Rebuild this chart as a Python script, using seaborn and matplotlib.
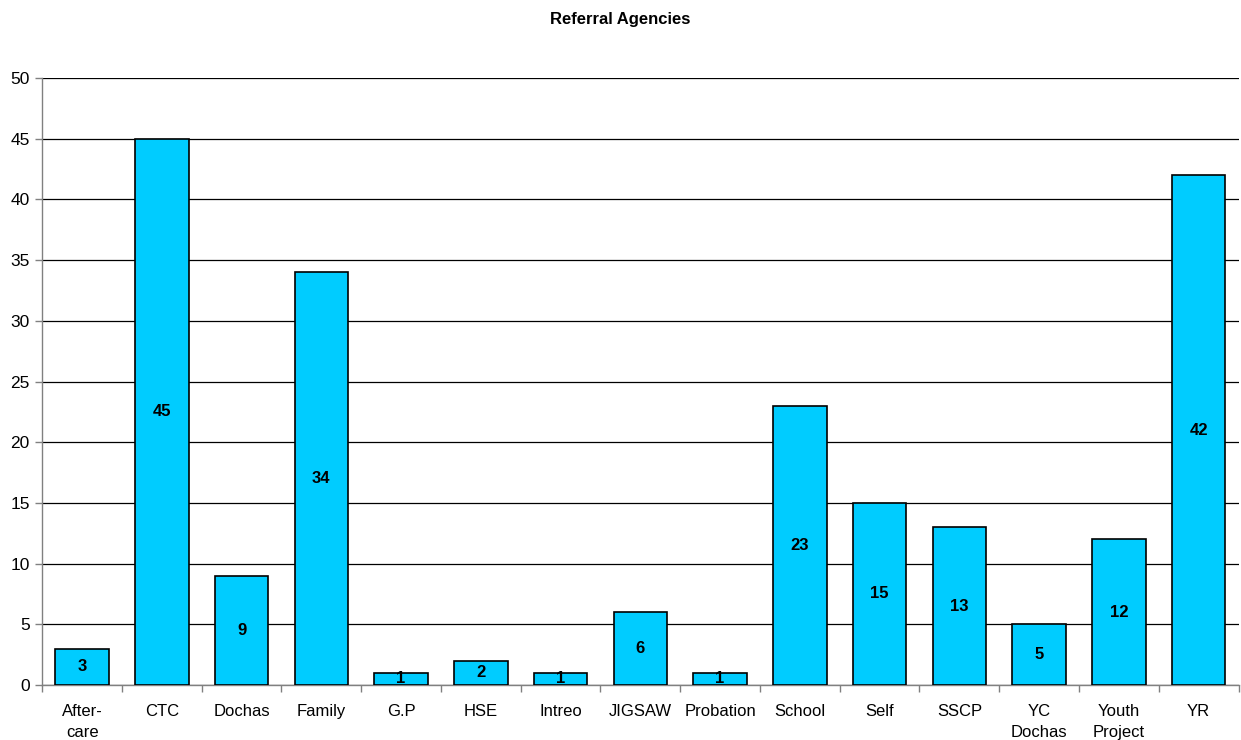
import matplotlib
matplotlib.use("Agg")
import matplotlib.pyplot as plt
import seaborn as sns
import pandas as pd
import numpy as np

categories = ["After-\ncare", "CTC", "Dochas", "Family", "G.P", "HSE", "Intreo", "JIGSAW",
              "Probation", "School", "Self", "SSCP", "YC\nDochas", "Youth\nProject", "YR"]
values = [3, 45, 9, 34, 1, 2, 1, 6, 1, 23, 15, 13, 5, 12, 42]
yticks = [0, 5, 10, 15, 20, 25, 30, 35, 40, 45, 50]

sns.set_theme(style="white")
plt.rcParams['font.family'] = ['Liberation Sans', 'DejaVu Sans']
plt.rcParams['text.color'] = 'black'
plt.rcParams['xtick.color'] = 'black'
plt.rcParams['ytick.color'] = 'black'

df = pd.DataFrame({"cat": categories, "val": values})

fig = plt.figure(figsize=(12.41, 7.40), dpi=100)
ax = fig.add_axes([0.034, 0.0743, 0.964, 0.8203])

sns.barplot(data=df, x="cat", y="val", color="#00CCFF", saturation=1,
            edgecolor="black", linewidth=1.2, width=0.67, ax=ax, zorder=3)

ax.set_ylim(0, 50)
ax.set_xlim(-0.5, len(categories) - 0.5)
ax.set_yticks(yticks)
ax.set_yticklabels([str(t) for t in yticks], fontsize=12.5)
ax.yaxis.grid(True, color="black", linewidth=0.9, zorder=0)
ax.set_axisbelow(True)

for c in ax.containers:
    ax.bar_label(c, labels=[str(v) for v in values], label_type="center",
                 fontsize=12, fontweight="bold", color="black")

ax.set_xlabel("")
ax.set_ylabel("")
ax.set_xticks(range(len(categories)))
ax.set_xticklabels(categories, fontsize=12, linespacing=1.45)
ax.tick_params(axis="x", which="major", length=0, pad=14)
ax.set_xticks(np.arange(len(categories) + 1) - 0.5, minor=True)
ax.tick_params(axis="x", which="minor", length=5, color="#808080", width=1, direction="out")
ax.tick_params(axis="y", length=5, color="#808080", width=1, direction="out", pad=4)
ax.xaxis.set_ticks_position("bottom")
ax.yaxis.set_ticks_position("left")

for s in ["top", "right"]:
    ax.spines[s].set_visible(False)
for s in ["left", "bottom"]:
    ax.spines[s].set_color("#808080")
    ax.spines[s].set_linewidth(1)

fig.suptitle("Referral Agencies", fontsize=12, fontweight="bold", y=0.984)

fig.savefig("out.png", dpi=100)
